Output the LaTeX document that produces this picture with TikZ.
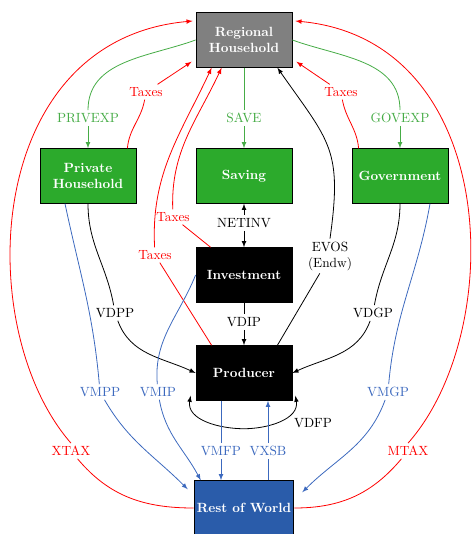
\documentclass[tikz,border=0pt]{standalone}
\usepackage{tikz}
\usetikzlibrary{calc}

\definecolor{hhgray}{RGB}{128,128,128}
\definecolor{hhgreen}{RGB}{44,170,44}
\definecolor{flowgreen}{RGB}{70,172,70}
\definecolor{rowblue}{RGB}{42,92,170}
\definecolor{flowblue}{RGB}{60,105,190}

\begin{document}
\begin{tikzpicture}[x=0.75pt,y=0.75pt,>=latex,line width=0.6pt,
	box/.style={draw=black,text=white,font=\bfseries,align=center,minimum width=72pt,minimum height=41pt,inner sep=2pt},
	lab/.style={inner sep=2pt,align=center},
	gline/.style={draw=flowgreen},
	rline/.style={draw=red},
	bline/.style={draw=black},
	blline/.style={draw=flowblue}]
		\useasboundingbox (0,0) rectangle (472,-534);
		% agents
		\node [box,fill=hhgray] (rh) at (244,-40) {Regional\\Household};
		\node [box,fill=hhgreen] (ph) at (88,-176) {Private\\Household};
		\node [box,fill=hhgreen] (sav) at (244,-176) {Saving};
		\node [box,fill=hhgreen] (gov) at (400,-176) {Government};
		\node [box,fill=black] (inv) at (244,-275) {Investment};
		\node [box,fill=black] (prod) at (244,-373) {Producer};
		\node [box,fill=rowblue] (row) at (244,-508) {Rest of World};
		% labels
		\node [lab,text=flowgreen] (privexp) at (88,-118) {PRIVEXP};
		\node [lab,text=flowgreen] (save) at (244,-118) {SAVE};
		\node [lab,text=flowgreen] (govexp) at (400,-118) {GOVEXP};
		\node [lab,text=red] (taxA) at (146,-92) {Taxes};
		\node [lab,text=red] (taxD) at (341,-92) {Taxes};
		\node [lab,text=red] (taxB) at (173,-217) {Taxes};
		\node [lab,text=red] (taxC) at (155,-255) {Taxes};
		\node [lab] (netinv) at (244,-223) {NETINV};
		\node [lab] (vdip) at (244,-322) {VDIP};
		\node [lab] (evos) at (330,-256) {EVOS\\(Endw)};
		\node [lab] (vdpp) at (115,-313) {VDPP};
		\node [lab] (vdgp) at (373,-313) {VDGP};
		\node [lab] (vdfp) at (313,-423) {VDFP};
		\node [lab,text=flowblue] (vmpp) at (100,-392) {VMPP};
		\node [lab,text=flowblue] (vmip) at (158,-392) {VMIP};
		\node [lab,text=flowblue] (vmgp) at (388,-392) {VMGP};
		\node [lab,text=flowblue] (vmfp) at (221,-451) {VMFP};
		\node [lab,text=flowblue] (vxsb) at (268,-451) {VXSB};
		\node [lab,text=red] (xtax) at (71,-451) {XTAX};
		\node [lab,text=red] (mtax) at (408,-451) {MTAX};
		% green: income spent
		\draw [gline] (rh.west) to[out=200,in=90] (privexp);
		\draw [gline,->] (privexp) -- (ph);
		\draw [gline] (rh) -- (save);
		\draw [gline,->] (save) -- (sav);
		\draw [gline] (rh.east) to[out=-20,in=90] (govexp);
		\draw [gline,->] (govexp) -- (gov);
		% red: taxes
		\draw [rline] ($(ph.north east)+(-9,0)$) to[out=85,in=-100] (taxA);
		\draw [rline,->] (taxA) -- ($(rh.south west)+(-4,6)$);
		\draw [rline] ($(gov.north west)+(7,0)$) to[out=95,in=-80] (taxD);
		\draw [rline,->] (taxD) -- ($(rh.south east)+(4,6)$);
		\draw [rline] ($(inv.north west)+(15,0)$) -- (taxB);
		\draw [rline,->] (taxB) to[out=92,in=-115] ($(rh.south west)+(26,0)$);
		\draw [rline] ($(prod.north west)+(16,0)$) -- (taxC);
		\draw [rline,->] (taxC) to[out=93,in=-115] ($(rh.south west)+(16,0)$);
		\draw [rline] (row.west) to[out=180,in=-50] (xtax);
		\draw [rline,->] (xtax.north) .. controls (-28,-330) and (-18,-40) .. ($(rh.west)+(-3,19)$);
		\draw [rline] (row.east) to[out=0,in=-130] (mtax);
		\draw [rline,->] (mtax.north) .. controls (508,-330) and (500,-40) .. ($(rh.east)+(3,19)$);
		% black: domestic flows
		\draw [bline,<-] (sav) -- (netinv);
		\draw [bline,->] (netinv) -- (inv);
		\draw [bline] (inv) -- (vdip);
		\draw [bline,->] (vdip) -- (prod);
		\draw [bline] ($(prod.north east)+(-15,0)$) -- (evos);
		\draw [bline,->] (evos.north) to[out=82,in=-55,looseness=1.3] ($(rh.south east)+(-15,0)$);
		\draw [bline] (ph) to[out=-90,in=100] (vdpp);
		\draw [bline,->] (vdpp) to[out=-70,in=155] (prod.west);
		\draw [bline] (gov) to[out=-90,in=80] (vdgp);
		\draw [bline,->] (vdgp) to[out=-110,in=25] (prod.east);
		\draw [bline,<->] ($(prod.south east)+(3,5)$) to[out=-80,in=0] ($(prod.south)+(0,-28)$) to[out=180,in=-100] ($(prod.south west)+(-5,5)$);
		% blue: imports and exports
		\draw [blline] ($(ph.south)+(-23,0)$) to[out=-78,in=95] (vmpp);
		\draw [blline,->] (vmpp) to[out=-60,in=135] ($(row.north west)+(-6,-9)$);
		\draw [blline] (inv.west) to[out=-112,in=95] (vmip);
		\draw [blline,->] (vmip) to[out=-80,in=118] ($(row.north west)+(7,0)$);
		\draw [blline] ($(gov.south)+(30,0)$) to[out=-100,in=85] (vmgp);
		\draw [blline,->] (vmgp) to[out=-110,in=45] ($(row.north east)+(8,-12)$);
		\draw [blline] ($(prod.south)+(-23,0)$) -- (vmfp);
		\draw [blline,->] (vmfp) -- (vmfp |- row.north);
		\draw [blline] (vxsb |- row.north) -- (vxsb);
		\draw [blline,->] (vxsb) -- (vxsb |- prod.south);
\end{tikzpicture}
\end{document}
